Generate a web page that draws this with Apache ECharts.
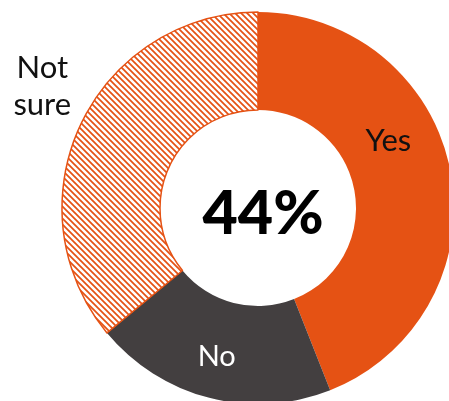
<!DOCTYPE html>
<html>
<head>
<meta charset="utf-8">
<script src="https://cdn.jsdelivr.net/npm/echarts@6/dist/echarts.min.js"></script>
<style>
html,body{margin:0;padding:0;background:#fff;}
#chart{width:449px;height:401px;}
</style>
</head>
<body>
<div id="chart"></div>
<script>
var categories = ['Yes', 'No', 'Not sure'];
var values = [44, 20, 36];
var centerLabel = '44%';

var ORANGE = '#E55214';
var DARK = '#433F40';

function hatch() {
  var s = 6;
  var c = document.createElement('canvas');
  c.width = s; c.height = s;
  var g = c.getContext('2d');
  g.fillStyle = '#fff';
  g.fillRect(0, 0, s, s);
  g.strokeStyle = ORANGE;
  g.lineWidth = 1.7;
  g.beginPath();
  g.moveTo(-1, -1); g.lineTo(s + 1, s + 1);
  g.moveTo(-1, s - 1); g.lineTo(1, s + 1);
  g.moveTo(s - 1, -1); g.lineTo(s + 1, 1);
  g.stroke();
  return c;
}

var font = 'Lato, "Open Sans", sans-serif';
var styles = [
  { itemStyle: { color: ORANGE }, label: { color: '#111', offset: [-17, -39], fontSize: 31 } },
  { itemStyle: { color: DARK }, label: { color: '#fff', offset: [-4, 3] } },
  { itemStyle: { color: { image: hatch(), repeat: 'repeat' }, borderColor: ORANGE, borderWidth: 1.5 },
    label: { color: '#111', offset: [-80, -58], formatter: 'Not\nsure', lineHeight: 37, fontSize: 31 } }
];

var data = categories.map(function (c, i) {
  return Object.assign({ name: c, value: values[i] }, styles[i]);
});

var chart = echarts.init(document.getElementById('chart'));
chart.setOption({
  animation: false,
  title: {
    text: centerLabel,
    left: 258, top: 209,
    textAlign: 'center', textVerticalAlign: 'middle',
    textStyle: { fontFamily: font, fontWeight: 900, fontSize: 61, color: '#000' }
  },
  series: [{
    type: 'pie',
    center: [258, 208],
    radius: [98, 196],
    startAngle: 90,
    clockwise: true,
    silent: true,
    label: {
      show: true, position: 'inside', formatter: '{b}',
      fontFamily: font, fontSize: 29, align: 'center'
    },
    labelLine: { show: false },
    data: data
  }]
});
</script>
</body>
</html>
